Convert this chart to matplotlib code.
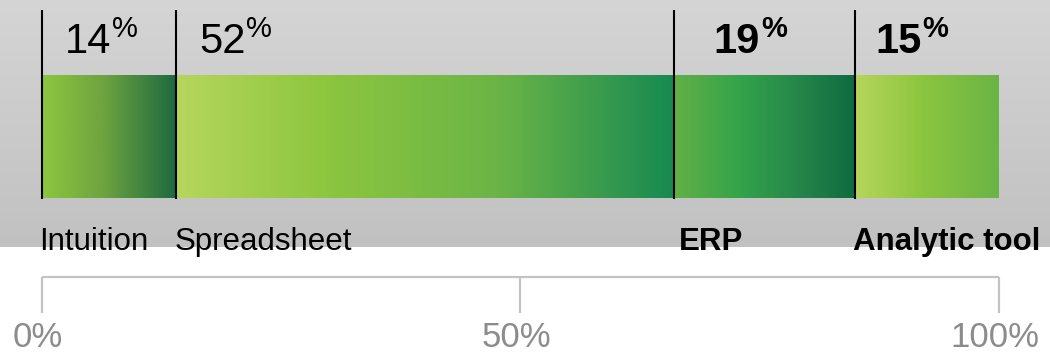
import matplotlib.pyplot as plt
import numpy as np
from matplotlib.colors import LinearSegmentedColormap

plt.rcParams['font.family'] = ['Liberation Sans', 'DejaVu Sans']

# --------------------
# Data
# --------------------
categories = ['Intuition', 'Spreadsheet', 'ERP', 'Analytic tool']
shares = [14, 52, 19, 15]
highlight = [False, False, True, True]
axis_ticks = [0, 50, 100]

# --------------------
# Style
# --------------------
W, H = 1050, 353
px_per_pct = 9.57
x_origin = 42  # pixel position of 0%

gradients = [
    [(0.0, '#8dc63f'), (0.45, '#6fa43f'), (1.0, '#1c6a40')],
    [(0.0, '#b6d65c'), (0.30, '#8dc63f'), (0.65, '#6ab446'), (1.0, '#178a52')],
    [(0.0, '#62b046'), (0.35, '#35a44a'), (0.70, '#24854a'), (1.0, '#0e6a3f')],
    [(0.0, '#b6d65c'), (0.45, '#8dc63f'), (1.0, '#6ab446')],
]
value_pad = [2.35, 2.4, 4.2, 2.1]      # % units from segment start
label_pad = [-0.3, -0.15, 0.5, -0.3]

bar_top, bar_bottom = 75, 198
band_bottom = 247

fig = plt.figure(figsize=(W / 100, H / 100), dpi=100)
ax = fig.add_axes([0, 0, 1, 1])
xmin = -x_origin / px_per_pct
xmax = (W - x_origin) / px_per_pct
ax.set_xlim(xmin, xmax)
ax.set_ylim(H, 0)
ax.axis('off')

# grey backdrop band
band = LinearSegmentedColormap.from_list('band', ['#d5d5d5', '#c1c1c1'])
ax.imshow(np.linspace(0, 1, 256).reshape(-1, 1), cmap=band, aspect='auto',
          extent=(xmin, xmax, band_bottom, 0), zorder=0)

ramp = np.linspace(0, 1, 256).reshape(1, -1)
starts = np.concatenate([[0], np.cumsum(shares)[:-1]])

for i, (cat, share) in enumerate(zip(categories, shares)):
    left = starts[i]
    right = left + share
    cmap = LinearSegmentedColormap.from_list(f'seg{i}', gradients[i])
    ax.imshow(ramp, cmap=cmap, aspect='auto',
              extent=(left, right, bar_bottom, bar_top), zorder=2)

    # divider line
    ax.plot([left, left], [10, bar_bottom + 1], color='black', lw=1.5,
            solid_capstyle='butt', zorder=3)

    weight = 'bold' if highlight[i] else 'normal'
    num = ax.text(left + value_pad[i], 53, f'{share}', fontsize=30,
                  fontweight=weight, ha='left', va='baseline', zorder=4)
    ax.annotate('%', xy=(1, 1), xycoords=num, xytext=(0.5, 5),
                textcoords='offset points', fontsize=21, fontweight=weight,
                ha='left', va='top', zorder=4)

    ax.text(left + label_pad[i], 250, cat, fontsize=22.5, fontweight=weight,
            ha='left', va='baseline', zorder=4)

# percentage scale underneath
axis_color = '#c3c3c3'
ax.plot([axis_ticks[0], axis_ticks[-1]], [277, 277], color=axis_color, lw=1.6,
        solid_capstyle='butt', zorder=1)
for t in axis_ticks:
    ax.plot([t, t], [277, 313], color=axis_color, lw=1.6,
            solid_capstyle='butt', zorder=1)
    ax.text(t - 0.4, 347, f'{t}%', fontsize=25, color='#8c8c8c',
            ha='center', va='baseline')

plt.savefig('out.png', dpi=100)
